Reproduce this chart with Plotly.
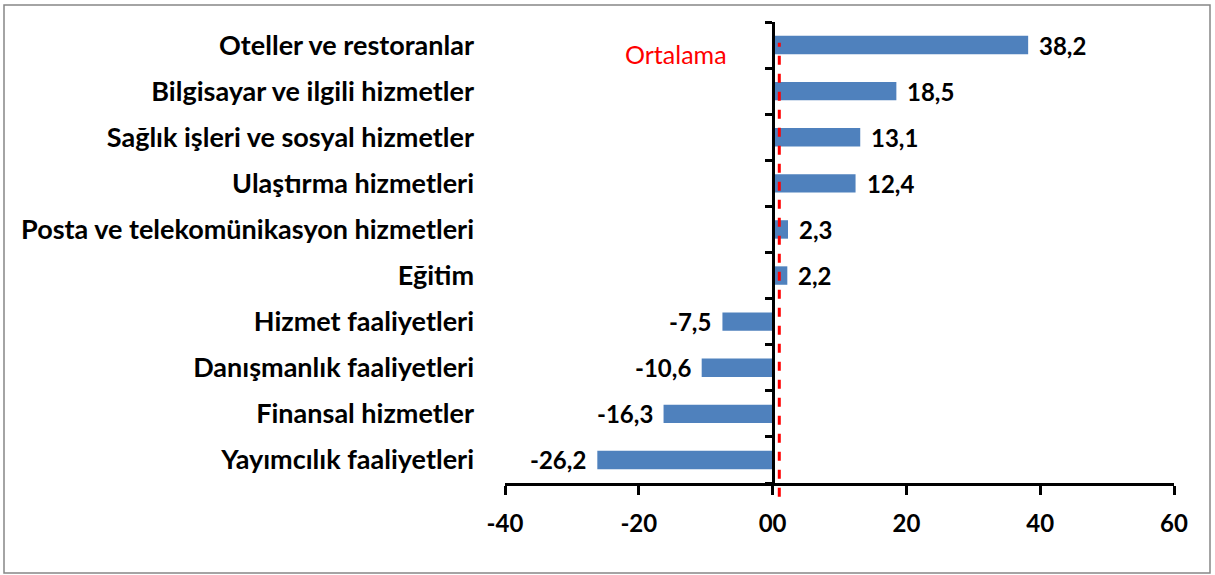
import plotly.graph_objects as go

categories = [
    "Oteller ve restoranlar",
    "Bilgisayar ve ilgili hizmetler",
    "Sağlık işleri ve sosyal hizmetler",
    "Ulaştırma hizmetleri",
    "Posta ve telekomünikasyon hizmetleri",
    "Eğitim",
    "Hizmet faaliyetleri",
    "Danışmanlık faaliyetleri",
    "Finansal hizmetler",
    "Yayımcılık faaliyetleri",
]
values = [38.2, 18.5, 13.1, 12.4, 2.3, 2.2, -7.5, -10.6, -16.3, -26.2]
average_value = 1.0
average_label = "Ortalama"
x_tickvals = [-40, -20, 0, 20, 40, 60]
x_ticktext = ["-40", "-20", "00", "20", "40", "60"]

cats = categories[::-1]
vals = values[::-1]

FONT = "Lato"
BAR = "#4F81BD"

fig = go.Figure()
fig.add_trace(go.Bar(
    x=vals, y=cats, orientation="h", width=0.4,
    marker=dict(color=BAR, line=dict(width=0)),
    hoverinfo="x+y", showlegend=False,
))
# helper trace for the boundary-tick axis at zero
fig.add_trace(go.Scatter(
    x=[average_value], y=[4.5], yaxis="y2", mode="markers",
    marker=dict(size=0.1, opacity=0), showlegend=False, hoverinfo="skip",
))

annotations = []
for c, v in zip(cats, vals):
    annotations.append(dict(
        x=v, y=c, xref="x", yref="y",
        text="<b>" + f"{v:.1f}".replace(".", ",") + "</b>",
        showarrow=False,
        xanchor="left" if v >= 0 else "right",
        xshift=9 if v >= 0 else -9,
        font=dict(family=FONT, size=24, color="black"),
    ))
annotations.append(dict(
    x=-14.4, y=8.8, xref="x", yref="y2", text=average_label, showarrow=False,
    font=dict(family=FONT, size=25, color="#FF0000"),
))

l, r, t, b = 505, 41, 22, 92
W, H = 1215, 575
pw, ph = W - l - r, H - t - b

def px_x(p):
    return (p - l) / pw

def px_y(p):
    return (H - b - p) / ph

fig.update_layout(
    width=W, height=H,
    margin=dict(l=l, r=r, t=t, b=b),
    paper_bgcolor="white", plot_bgcolor="white",
    bargap=0.6,
    xaxis=dict(
        range=[-40, 60], tickvals=x_tickvals, ticktext=x_ticktext,
        showgrid=False, zeroline=False,
        showline=True, linecolor="black", linewidth=3,
        ticks="outside", ticklen=9, tickwidth=3, tickcolor="black",
        tickfont=dict(family=FONT, size=24, color="black", weight="bold"),
        ticklabelstandoff=8,
    ),
    yaxis=dict(
        type="category", categoryorder="array", categoryarray=cats,
        range=[-0.5, 9.5],
        showgrid=False, zeroline=False, showline=False, ticks="",
        tickfont=dict(family=FONT, size=27, color="black", weight="bold"),
        ticklabelstandoff=30,
    ),
    yaxis2=dict(
        overlaying="y", anchor="free", position=0.4, side="left",
        range=[-0.5, 9.5], tickvals=[-0.5 + i for i in range(11)],
        showticklabels=False, showgrid=False, zeroline=False,
        showline=True, linecolor="black", linewidth=2.5,
        ticks="outside", ticklen=7, tickwidth=2.5, tickcolor="black",
    ),
    annotations=annotations,
    shapes=[
        dict(type="line", xref="x", yref="paper",
             x0=average_value, x1=average_value, y0=-0.03, y1=0.955,
             line=dict(color="#FF0000", width=3, dash="dash"), layer="above"),
        dict(type="rect", xref="paper", yref="paper",
             x0=px_x(4), x1=px_x(1210), y0=px_y(573), y1=px_y(5),
             line=dict(color="#868686", width=1.5), fillcolor="rgba(0,0,0,0)"),
    ],
    hovermode="closest",
)

fig.write_html(
    "out.html",
    config={"displayModeBar": False},
    post_script="document.body.style.margin='0';document.body.style.overflow='hidden';",
)
